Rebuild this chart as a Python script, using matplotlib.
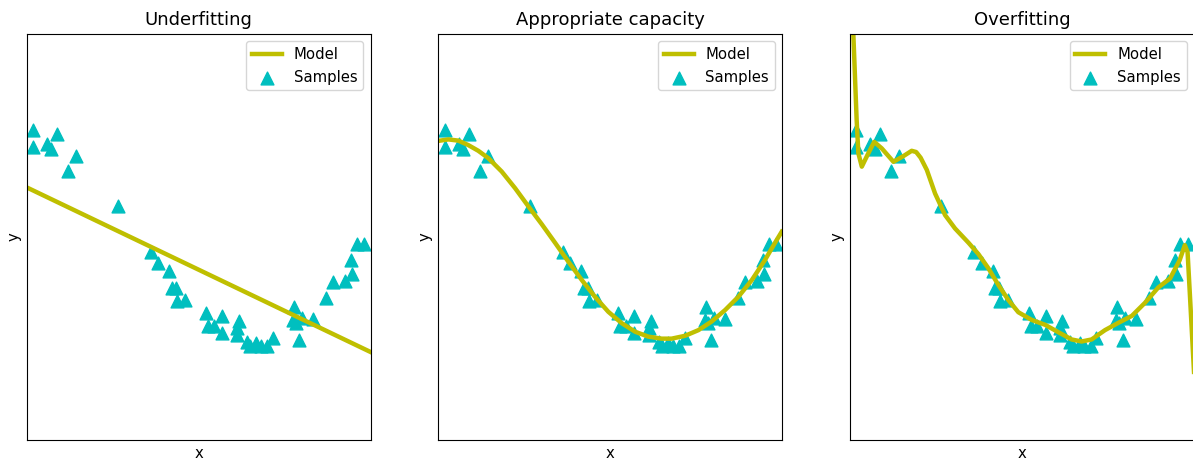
import numpy as np
import matplotlib
matplotlib.use('Agg')
import matplotlib.pyplot as plt

# samples (same in all three panels), x and y in axis units 0..1
sample_x = [0.018, 0.088, 0.018, 0.059, 0.071, 0.143, 0.120, 0.265,
            0.361, 0.382, 0.414, 0.422, 0.434, 0.437, 0.460,
            0.521, 0.568, 0.527, 0.544, 0.568, 0.617, 0.611, 0.611,
            0.640, 0.649, 0.667, 0.681, 0.699, 0.716,
            0.777, 0.774, 0.783, 0.800, 0.832, 0.792, 0.870, 0.890,
            0.925, 0.946, 0.943, 0.960, 0.981]
sample_y = [0.763, 0.753, 0.721, 0.729, 0.716, 0.699, 0.662, 0.576,
            0.463, 0.436, 0.416, 0.375, 0.375, 0.343, 0.345,
            0.313, 0.306, 0.281, 0.281, 0.264, 0.293, 0.276, 0.259,
            0.242, 0.232, 0.239, 0.232, 0.232, 0.252,
            0.328, 0.296, 0.288, 0.301, 0.298, 0.247, 0.350, 0.389,
            0.392, 0.409, 0.443, 0.483, 0.483]

# underfitting: straight line
under_x = [0.0, 1.0]
under_y = [0.622, 0.217]

# appropriate capacity
good_x = [0.005, 0.029, 0.058, 0.087, 0.116, 0.145, 0.184, 0.223, 0.261,
          0.300, 0.339, 0.378, 0.417, 0.455, 0.494, 0.533, 0.572, 0.610,
          0.649, 0.678, 0.717, 0.756, 0.794, 0.833, 0.872, 0.911, 0.949,
          0.978, 0.998]
good_y = [0.737, 0.740, 0.737, 0.726, 0.712, 0.694, 0.661, 0.620, 0.576,
          0.532, 0.486, 0.439, 0.394, 0.353, 0.316, 0.288, 0.267, 0.255,
          0.250, 0.250, 0.257, 0.271, 0.292, 0.320, 0.353, 0.394, 0.443,
          0.485, 0.513]

# overfitting
over_x = [0.0, 0.0093, 0.019, 0.024, 0.034, 0.053, 0.070, 0.092, 0.126,
          0.155, 0.179, 0.192, 0.205, 0.223, 0.247, 0.276, 0.305, 0.344,
          0.373, 0.402, 0.431, 0.460, 0.489, 0.528, 0.567, 0.605, 0.644,
          0.673, 0.702, 0.741, 0.780, 0.819, 0.857, 0.896, 0.930, 0.958,
          0.973, 0.981, 0.987, 0.9997, 1.01]
over_y = [1.2, 1.001, 0.788, 0.706, 0.673, 0.706, 0.734, 0.718, 0.685,
          0.699, 0.712, 0.709, 0.695, 0.665, 0.607, 0.554, 0.521, 0.486,
          0.458, 0.423, 0.382, 0.345, 0.315, 0.296, 0.284, 0.266, 0.248,
          0.243, 0.248, 0.271, 0.289, 0.306, 0.338, 0.376, 0.398, 0.443,
          0.480, 0.463, 0.370, 0.168, -1.0]

titles = ['Underfitting', 'Appropriate capacity', 'Overfitting']
models = [(under_x, under_y), (good_x, good_y), (over_x, over_y)]

fig = plt.figure(figsize=(11.93, 4.59), dpi=100)
lefts = [0.02238, 0.36748, 0.71258]

for left, title, (mx, my) in zip(lefts, titles, models):
    ax = fig.add_axes([left, 0.04074, 0.28835, 0.88584])
    line, = ax.plot(mx, my, color='y', lw=3.2, label='Model')
    pts = ax.scatter(sample_x, sample_y, marker='^', c='c', s=85, label='Samples')
    ax.set_xlim(0, 1)
    ax.set_ylim(0, 1)
    ax.set_xticks([])
    ax.set_yticks([])
    ax.set_xlabel('x', fontsize=10.7)
    ax.set_ylabel('y', fontsize=10.7)
    ax.set_title(title, fontsize=13)
    ax.legend(handles=[line, pts], loc='upper right', fontsize=10.7)

fig.savefig('out.png', dpi=100)
